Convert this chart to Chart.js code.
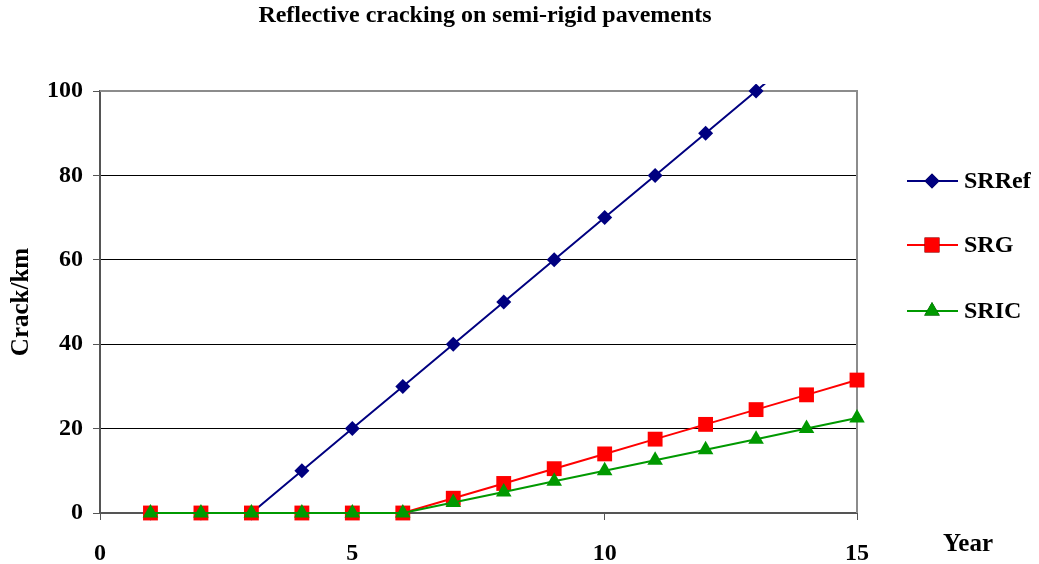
<!DOCTYPE html>
<html>
<head>
<meta charset="utf-8">
<script src="https://cdn.jsdelivr.net/npm/chart.js@4/dist/chart.umd.min.js"></script>
<style>
  html, body { margin: 0; padding: 0; background: #fff; }
  #wrap { width: 1039px; height: 564px; position: relative; }
</style>
</head>
<body>
<div id="wrap"><canvas id="c" width="1039" height="564"></canvas></div>
<script>
// Years and crack counts per km for the three semi-rigid pavement sections
const years = [1, 2, 3, 4, 5, 6, 7, 8, 9, 10, 11, 12, 13, 14, 15];
const srRef = [0, 0, 0, 10, 20, 30, 40, 50, 60, 70, 80, 90, 100, 110];
const srG   = [0, 0, 0, 0, 0, 0, 3.5, 7, 10.5, 14, 17.5, 21, 24.5, 28, 31.5];
const srIC  = [0, 0, 0, 0, 0, 0, 2.5, 5, 7.5, 10, 12.5, 15, 17.5, 20, 22.5];
const seriesNames = ['SRRef', 'SRG', 'SRIC'];
const xTicks = [0, 5, 10, 15];
const yTicks = [0, 20, 40, 60, 80, 100];

const toPoints = vals => vals.map((v, i) => ({ x: years[i], y: v }));
const FONT = '"Liberation Serif", "Times New Roman", serif';

const styles = [
  { color: '#000080', point: 'rectRot', radius: 7.5 },
  { color: '#ff0000', point: 'rect', radius: 10.5 },
  { color: '#009900', point: 'triangle', radius: 9 }
];
const values = [srRef, srG, srIC];

const datasets = values.map((vals, i) => ({
  label: seriesNames[i],
  data: toPoints(vals),
  borderColor: styles[i].color,
  backgroundColor: styles[i].color,
  pointStyle: styles[i].point,
  pointRadius: styles[i].radius,
  pointBorderWidth: 0,
  borderWidth: 2,
  tension: 0,
  order: 2 - i,
  clip: { left: 10, right: 10, top: 7, bottom: 10 }
}));

const decor = {
  id: 'decor',
  beforeDatasetsDraw(chart) {
    const { ctx, chartArea: a } = chart;
    ctx.save();
    ctx.strokeStyle = '#8c8c8c';
    ctx.lineWidth = 2;
    ctx.beginPath();
    ctx.moveTo(a.left, a.top);
    ctx.lineTo(a.right, a.top);
    ctx.lineTo(a.right, a.bottom);
    ctx.stroke();
    ctx.restore();
  },
  afterDraw(chart) {
    const { ctx } = chart;
    ctx.save();
    ctx.fillStyle = '#000';
    ctx.textAlign = 'center';
    ctx.textBaseline = 'middle';
    ctx.font = 'bold 24px ' + FONT;
    ctx.fillText('Reflective cracking on semi-rigid pavements', 485, 16);
    ctx.font = 'bold 25px ' + FONT;
    ctx.fillText('Year', 968, 545);
    ctx.save();
    ctx.translate(22, 302);
    ctx.rotate(-Math.PI / 2);
    ctx.fillText('Crack/km', 0, 0);
    ctx.restore();

    // legend: line with marker, then name
    const rows = [181, 245, 311];
    chart.data.datasets.forEach((ds, i) => {
      const y = rows[i];
      ctx.strokeStyle = ds.borderColor;
      ctx.lineWidth = 2;
      ctx.beginPath();
      ctx.moveTo(907, y);
      ctx.lineTo(958, y);
      ctx.stroke();
      Chart.helpers.drawPoint(ctx, {
        pointStyle: ds.pointStyle, radius: ds.pointRadius, rotation: 0, borderWidth: 0
      }, 932, y);
      ctx.fillStyle = ds.backgroundColor;
      ctx.fill();
      ctx.fillStyle = '#000';
      ctx.textAlign = 'left';
      ctx.font = 'bold 24px ' + FONT;
      ctx.fillText(ds.label, 964, y + 1);
    });
    ctx.restore();
  }
};

new Chart(document.getElementById('c'), {
  type: 'line',
  data: { datasets },
  plugins: [decor],
  options: {
    responsive: false,
    animation: false,
    layout: { padding: { left: 0, right: 182, top: 91, bottom: 0 } },
    plugins: { legend: { display: false }, tooltip: { enabled: false }, title: { display: false } },
    scales: {
      x: {
        type: 'linear',
        min: 0, max: 15,
        afterBuildTicks: s => { s.ticks = xTicks.map(v => ({ value: v })); },
        afterFit: s => { s.height = 51; },
        grid: { drawOnChartArea: false, drawTicks: true, tickLength: 7, color: '#555', lineWidth: 1 },
        border: { color: '#555', width: 2 },
        ticks: { color: '#000', padding: 19, font: { family: FONT, size: 24, weight: 'bold' }, maxRotation: 0 }
      },
      y: {
        min: 0, max: 100,
        afterBuildTicks: s => { s.ticks = yTicks.map(v => ({ value: v })); },
        afterFit: s => { s.width = 100; },
        grid: { color: '#000', lineWidth: 1, tickLength: 7, tickColor: '#555' },
        border: { color: '#555', width: 2 },
        ticks: { color: '#000', padding: 10, font: { family: FONT, size: 24, weight: 'bold' } }
      }
    }
  }
});
</script>
</body>
</html>
